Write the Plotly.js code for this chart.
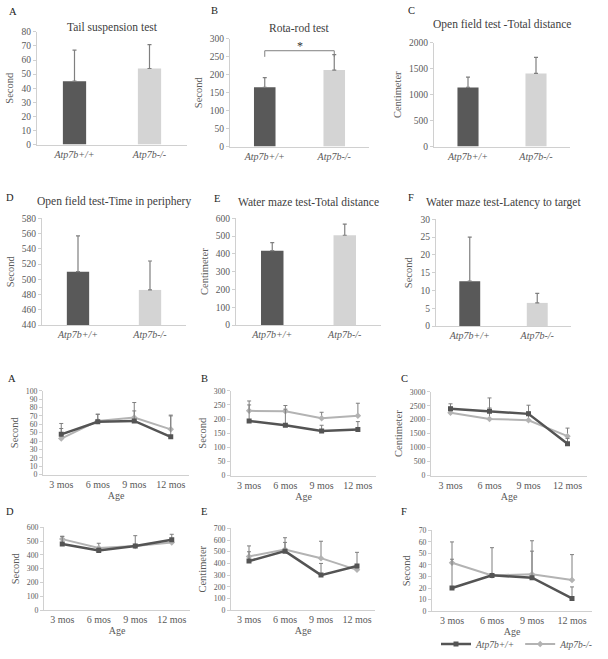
<!DOCTYPE html>
<html><head><meta charset="utf-8">
<script src="https://cdn.plot.ly/plotly-3.0.1.min.js"></script>
<style>html,body{margin:0;padding:0;background:#fff}#chart{width:608px;height:659px}</style>
</head><body><div id="chart"></div>
<script>
// ---- data ----
const barCats = ['Atp7b+/+', 'Atp7b-/-'];
const tailVals = [45, 54];          const tailErr = [22, 17];
const rotaVals = [165, 213];        const rotaErr = [27, 43];
const openDistVals = [1140, 1410];  const openDistErr = [200, 310];
const openPeriVals = [510, 486];    const openPeriErr = [47, 38];
const waterDistVals = [418, 505];   const waterDistErr = [45, 63];
const waterLatVals = [12.6, 6.5];   const waterLatErr = [12.4, 2.7];

const ages = ['3 mos', '6 mos', '9 mos', '12 mos'];
const seriesNames = ['Atp7b+/+', 'Atp7b-/-'];
const lineA_wt = [48, 63, 64, 45];        const lineA_wtErr = [13, 9, 12, 25];
const lineA_ko = [43, 64, 68, 54];        const lineA_koErr = [12, 8, 18, 17];
const lineB_wt = [193, 178, 158, 163];    const lineB_wtErr = [57, 57, 20, 28];
const lineB_ko = [229, 228, 203, 212];    const lineB_koErr = [35, 20, 21, 44];
const lineC_wt = [2390, 2300, 2210, 1140]; const lineC_wtErr = [180, 480, 310, 190];
const lineC_ko = [2250, 2030, 1980, 1410]; const lineC_koErr = [200, 390, 300, 290];
const lineD_wt = [480, 432, 465, 510];    const lineD_wtErr = [55, 20, 75, 40];
const lineD_ko = [515, 450, 465, 490];    const lineD_koErr = [20, 35, 10, 10];
const lineE_wt = [420, 505, 300, 378];    const lineE_wtErr = [80, 75, 100, 117];
const lineE_ko = [460, 520, 445, 345];    const lineE_koErr = [90, 100, 145, 20];
const lineF_wt = [20, 31, 29, 11];        const lineF_wtErr = [25, 24, 23, 10];
const lineF_ko = [42, 31, 32, 27];        const lineF_koErr = [18, 1, 29, 22];

// ---- styles ----
const W = 608, H = 659;
const DARK = '#595959', LIGHT = '#d4d4d4', LDARK = '#545454', LLIGHT = '#b3b3b3';
const ERR = '#7f7f7f', AXC = '#d0d0d0', TXT = '#595959', TTL = '#404040';
const FONT = 'Liberation Serif';

const layout = {
  width: W, height: H, margin: {l: 0, r: 0, t: 0, b: 0},
  paper_bgcolor: '#fff', plot_bgcolor: '#fff',
  font: {family: FONT, color: TXT, size: 9.5},
  showlegend: true,
  legend: {orientation: 'h', x: 517 / W, y: 1 - 646 / H, xanchor: 'center', yanchor: 'middle',
           font: {family: FONT, size: 9.5, color: TXT}, itemwidth: 30, tracegroupgap: 0,
           bgcolor: 'rgba(0,0,0,0)'},
  annotations: [], shapes: []
};
const data = [];

function dom(a, b, total) { return [a / total, b / total]; }
function ydom(top, bottom) { return [1 - bottom / H, 1 - top / H]; }

let idx = 0;
function addAxes(px, py, yRange, dtick, ytitle, cats, italic, xtitle, fs) {
  idx++;
  const xk = idx === 1 ? 'xaxis' : 'xaxis' + idx;
  const yk = idx === 1 ? 'yaxis' : 'yaxis' + idx;
  const xr = idx === 1 ? 'x' : 'x' + idx;
  const yr = idx === 1 ? 'y' : 'y' + idx;
  layout[xk] = {
    domain: dom(px[0], px[1], W), anchor: yr, type: 'category',
    range: [-0.5, cats.length - 0.5], tickvals: cats,
    ticktext: cats.map(c => italic ? '<i>' + c + '</i>' : c),
    showline: true, linecolor: AXC, linewidth: 1, ticks: '', showgrid: false, zeroline: false,
    tickfont: {family: FONT, size: 10, color: TXT}, fixedrange: true
  };
  if (xtitle) layout[xk].title = {text: xtitle, font: {family: FONT, size: 10, color: TXT}, standoff: 2};
  layout[yk] = {
    domain: ydom(py[0], py[1]), anchor: xr, range: yRange, dtick: dtick, tick0: yRange[0],
    showline: true, linecolor: AXC, linewidth: 1, ticks: 'outside', ticklen: 3, tickcolor: AXC,
    showgrid: false, zeroline: false, tickfont: {family: FONT, size: fs, color: TXT},
    title: {text: ytitle, font: {family: FONT, size: 10.5, color: TXT}, standoff: 5}, fixedrange: true
  };
  return [xr, yr];
}

function barPanel(px, py, yRange, dtick, ytitle, vals, errs, title, titleY, letter, lx, ly) {
  const [xr, yr] = addAxes(px, py, yRange, dtick, ytitle, barCats, true, null, 9.5);
  const b = yRange[0];
  data.push({
    type: 'bar', x: barCats, y: vals.map(v => v - b), base: b, xaxis: xr, yaxis: yr, width: 0.31,
    marker: {color: [DARK, LIGHT]}, showlegend: false, hoverinfo: 'skip',
    error_y: {type: 'data', array: errs, arrayminus: [0, 0], symmetric: false,
              color: ERR, thickness: 1.2, width: 2}
  });
  layout.annotations.push({text: title, xref: 'paper', yref: 'paper', x: (px[0] + px[1]) / 2 / W,
    y: 1 - titleY / H, showarrow: false, xanchor: 'center', yanchor: 'middle',
    font: {family: FONT, size: 11.5, color: TTL}});
  layout.annotations.push({text: letter, xref: 'paper', yref: 'paper', x: lx / W, y: 1 - ly / H,
    showarrow: false, xanchor: 'center', yanchor: 'middle', font: {family: FONT, size: 10.5, color: '#222'}});
  return [xr, yr];
}

function linePanel(px, py, yRange, dtick, ytitle, wt, wtErr, ko, koErr, letter, lx, ly, legend) {
  const [xr, yr] = addAxes(px, py, yRange, dtick, ytitle, ages, false, 'Age', 7.8);
  data.push({
    type: 'scatter', mode: 'lines+markers', x: ages, y: ko, xaxis: xr, yaxis: yr,
    name: '<i>' + seriesNames[1] + '</i>', legendrank: 2, showlegend: legend, hoverinfo: 'skip',
    line: {color: LLIGHT, width: 2}, marker: {color: LLIGHT, size: 5, symbol: 'diamond'},
    error_y: {type: 'data', array: koErr, arrayminus: ko.map(() => 0), symmetric: false,
              color: ERR, thickness: 1, width: 2}
  });
  data.push({
    type: 'scatter', mode: 'lines+markers', x: ages, y: wt, xaxis: xr, yaxis: yr,
    name: '<i>' + seriesNames[0] + '</i>', legendrank: 1, showlegend: legend, hoverinfo: 'skip',
    line: {color: LDARK, width: 2.5}, marker: {color: LDARK, size: 5, symbol: 'square'},
    error_y: {type: 'data', array: wtErr, arrayminus: wt.map(() => 0), symmetric: false,
              color: ERR, thickness: 1, width: 2}
  });
  layout.annotations.push({text: letter, xref: 'paper', yref: 'paper', x: lx / W, y: 1 - ly / H,
    showarrow: false, xanchor: 'center', yanchor: 'middle', font: {family: FONT, size: 10.5, color: '#222'}});
}

// ---- row 1 ----
barPanel([37, 187], [32, 145], [0, 80], 10, 'Second', tailVals, tailErr, 'Tail suspension test', 28, 'A', 13, 12);
const [bxr, byr] = barPanel([230, 369], [39, 147], [0, 300], 50, 'Second', rotaVals, rotaErr, 'Rota-rod test', 28, 'B', 214, 11);
barPanel([434, 570], [43, 147], [0, 2000], 500, 'Centimeter', openDistVals, openDistErr, 'Open field test -Total distance', 25, 'C', 411, 11);
// ---- row 2 ----
barPanel([42, 186], [219, 326], [440, 580], 20, 'Second', openPeriVals, openPeriErr, 'Open field test-Time in periphery', 202, 'D', 10, 198);
barPanel([236, 381], [219, 326], [0, 600], 100, 'Centimeter', waterDistVals, waterDistErr, 'Water maze test-Total distance', 203, 'E', 217, 199);
barPanel([436, 571], [220, 327], [0, 30], 5, 'Second', waterLatVals, waterLatErr, 'Water maze test-Latency to target', 203, 'F', 411, 198);

// significance bracket on Rota-rod
layout.shapes.push({type: 'path', xref: bxr, yref: byr,
  path: 'M 0,250 L 0,267 L 1,267 L 1,250', line: {color: '#808080', width: 1}});
layout.annotations.push({text: '*', xref: bxr, yref: byr, x: 0.5, y: 280, showarrow: false,
  font: {family: FONT, size: 12, color: '#333'}});

// ---- row 3 ----
linePanel([43, 189], [392, 476], [0, 100], 10, 'Second', lineA_wt, lineA_wtErr, lineA_ko, lineA_koErr, 'A', 12, 380, false);
linePanel([231, 376], [392, 477], [0, 300], 50, 'Second', lineB_wt, lineB_wtErr, lineB_ko, lineB_koErr, 'B', 204, 380, false);
linePanel([431, 587], [393, 477], [0, 3000], 500, 'Centimeter', lineC_wt, lineC_wtErr, lineC_ko, lineC_koErr, 'C', 404, 380, false);
// ---- row 4 ----
linePanel([44, 190], [529, 612], [0, 600], 100, 'Second', lineD_wt, lineD_wtErr, lineD_ko, lineD_koErr, 'D', 10, 513, false);
linePanel([231, 375], [530, 612], [0, 700], 100, 'Centimeter', lineE_wt, lineE_wtErr, lineE_ko, lineE_koErr, 'E', 204, 513, false);
linePanel([432, 592], [532, 613], [0, 70], 10, 'Second', lineF_wt, lineF_wtErr, lineF_ko, lineF_koErr, 'F', 404, 513, true);

Plotly.newPlot('chart', data, layout, {staticPlot: true, displayModeBar: false});
</script></body></html>
